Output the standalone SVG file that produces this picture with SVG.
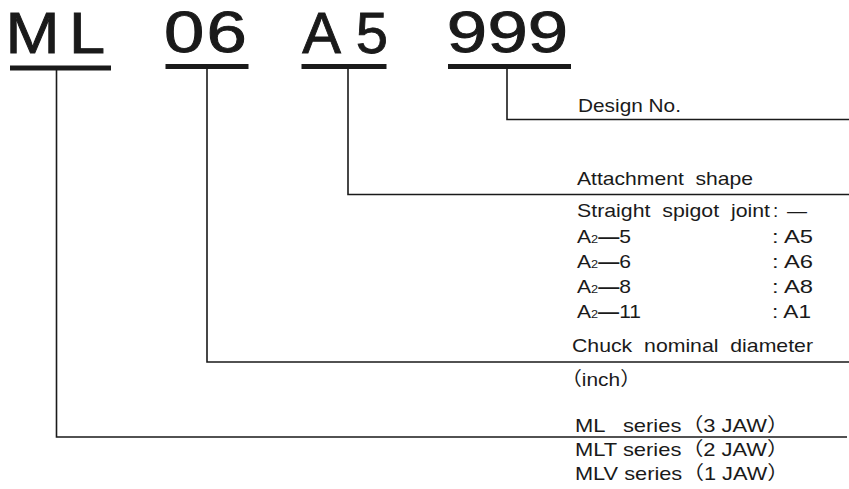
<svg xmlns="http://www.w3.org/2000/svg" width="849" height="489" viewBox="0 0 849 489">
  <style>
    .big { font-family: "Liberation Sans", Arial, sans-serif; font-size: 58px; fill: #1a1a1a; stroke: #1a1a1a; stroke-width: 0.9; text-anchor: middle; }
    .bar { fill: #1a1a1a; }
    .lbl { font-family: "Liberation Sans", Arial, "Noto Sans CJK JP", sans-serif; font-size: 19px; fill: #1a1a1a; }
    .pre { white-space: pre; }
    .sub { font-size: 11.5px; }
    .dash { font-weight: bold; }
    .conn { stroke: #1a1a1a; stroke-width: 1.6; fill: none; }
  </style>
  <rect width="849" height="489" fill="#ffffff"/>

  <g id="seg-ML">
    <text class="big" transform="scale(1.12 1)" x="29 77.7" y="52.5">ML</text>
    <rect class="bar" x="10" y="65.5" width="101" height="5"/>
  </g>
  <g id="seg-06">
    <text class="big" transform="scale(1.25 1)" x="147.4 181.4" y="52.5">06</text>
    <rect class="bar" x="165.5" y="64" width="83" height="5"/>
  </g>
  <g id="seg-A5">
    <text class="big" x="321.7 372" y="52.5">A5</text>
    <rect class="bar" x="301.5" y="64" width="85" height="5"/>
  </g>
  <g id="seg-999">
    <text class="big" transform="scale(1.25 1)" x="373.6 406.2 438.4" y="52.5">999</text>
    <rect class="bar" x="448" y="64" width="123" height="5"/>
  </g>

  <g id="connectors">
    <polyline class="conn" points="507,68 507,119.5 849,119.5"/>
    <polyline class="conn" points="348,68 348,194.5 849,194.5"/>
    <polyline class="conn" points="207,68 207,362 849,362"/>
    <polyline class="conn" points="56.5,70 56.5,437 847,437"/>
  </g>

  <g id="desc-design">
    <text class="lbl" x="578" y="112" textLength="103" lengthAdjust="spacingAndGlyphs">Design No.</text>
  </g>

  <g id="desc-attachment">
    <text class="lbl pre" x="577" y="185" textLength="176" lengthAdjust="spacingAndGlyphs">Attachment  shape</text>
    <text class="lbl pre" x="577" y="217" textLength="193" lengthAdjust="spacingAndGlyphs">Straight  spigot  joint</text>
    <text class="lbl" x="773" y="217">:<tspan x="787" textLength="20" lengthAdjust="spacingAndGlyphs">—</tspan></text>
    <text class="lbl" x="577" y="242.5" textLength="54" lengthAdjust="spacingAndGlyphs">A<tspan class="sub">2</tspan><tspan class="dash">—</tspan>5</text>
    <text class="lbl" x="772" y="242.5" textLength="41" lengthAdjust="spacingAndGlyphs">: A5</text>
    <text class="lbl" x="577" y="267.5" textLength="54" lengthAdjust="spacingAndGlyphs">A<tspan class="sub">2</tspan><tspan class="dash">—</tspan>6</text>
    <text class="lbl" x="772" y="267.5" textLength="41" lengthAdjust="spacingAndGlyphs">: A6</text>
    <text class="lbl" x="577" y="292.5" textLength="54" lengthAdjust="spacingAndGlyphs">A<tspan class="sub">2</tspan><tspan class="dash">—</tspan>8</text>
    <text class="lbl" x="772" y="292.5" textLength="41" lengthAdjust="spacingAndGlyphs">: A8</text>
    <text class="lbl" x="577" y="317.5" textLength="64" lengthAdjust="spacingAndGlyphs">A<tspan class="sub">2</tspan><tspan class="dash">—</tspan>11</text>
    <text class="lbl" x="772" y="317.5" textLength="39" lengthAdjust="spacingAndGlyphs">: A1</text>
  </g>

  <g id="desc-diameter">
    <text class="lbl pre" x="572" y="352" textLength="241" lengthAdjust="spacingAndGlyphs">Chuck  nominal  diameter</text>
    <text class="lbl" x="561" y="386" textLength="80" lengthAdjust="spacingAndGlyphs">（inch）</text>
  </g>

  <g id="desc-series">
    <text class="lbl pre" x="575" y="431.5" textLength="214" lengthAdjust="spacingAndGlyphs">ML   series（3 JAW）</text>
    <text class="lbl" x="575" y="455.5" textLength="214" lengthAdjust="spacingAndGlyphs">MLT series（2 JAW）</text>
    <text class="lbl" x="575" y="479.5" textLength="214" lengthAdjust="spacingAndGlyphs">MLV series（1 JAW）</text>
  </g>
</svg>
